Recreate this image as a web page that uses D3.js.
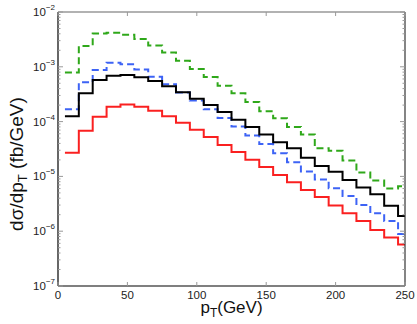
<!DOCTYPE html>
<html>
<head>
<meta charset="utf-8">
<script src="https://cdn.jsdelivr.net/npm/d3@7"></script>
<style>
  body { margin: 0; background: #fff; }
  svg { display: block; font-family: "Liberation Sans", Arial, sans-serif; }
</style>
</head>
<body>
<div id="chart"></div>
<script>
// bin centres (GeV), 10 GeV wide bins
var ptBins = [10, 20, 30, 40, 50, 60, 70, 80, 90, 100, 110, 120, 130, 140, 150, 160, 170, 180, 190, 200, 210, 220, 230, 240, 250]

// dsigma/dpT (fb/GeV)
var greenDashed = [7.9e-4, 2.4e-3, 4.05e-3, 4.2e-3, 3.85e-3, 3.2e-3, 2.45e-3, 1.82e-3, 1.29e-3, 9.1e-4, 6.5e-4, 4.5e-4, 3.3e-4, 2.27e-4, 1.55e-4, 1.15e-4, 8.0e-5, 5.8e-5, 3.25e-5, 2.95e-5, 1.95e-5, 1.18e-5, 8.4e-6, 6.0e-6, 6.6e-6]
var blueDashed = [1.68e-4, 5.2e-4, 8.7e-4, 1.18e-3, 1.11e-3, 8.9e-4, 6.6e-4, 4.8e-4, 3.4e-4, 2.42e-4, 1.68e-4, 1.16e-4, 8.1e-5, 5.6e-5, 3.9e-5, 2.65e-5, 1.82e-5, 1.23e-5, 8.8e-6, 6.05e-6, 4.4e-6, 3.0e-6, 2.12e-6, 1.54e-6, 8.9e-7]
var blackSolid = [1.25e-4, 3.3e-4, 5.75e-4, 6.85e-4, 7.05e-4, 6.45e-4, 5.5e-4, 4.4e-4, 3.45e-4, 2.6e-4, 2.0e-4, 1.5e-4, 1.08e-4, 8.0e-5, 5.8e-5, 4.2e-5, 3.25e-5, 2.2e-5, 1.55e-5, 1.22e-5, 8.6e-6, 6.3e-6, 4.7e-6, 2.92e-6, 1.9e-6]
var redSolid = [2.7e-5, 6.8e-5, 1.22e-4, 1.86e-4, 2.05e-4, 1.86e-4, 1.57e-4, 1.25e-4, 9.5e-5, 7.1e-5, 5.25e-5, 3.75e-5, 2.78e-5, 2.02e-5, 1.48e-5, 1.06e-5, 7.8e-6, 5.65e-6, 4.2e-6, 2.95e-6, 2.12e-6, 1.54e-6, 1.05e-6, 7.7e-7, 5.7e-7]

var xTicks = [0, 50, 100, 150, 200, 250]
var yExponents = [-7, -6, -5, -4, -3, -2]

var dims = {
    width: 417,
    height: 324,
    margin: {top: 12, right: 12, bottom: 38, left: 58}
}
var binWidth = 10

var svg = d3.select("#chart")
    .append("svg")
    .attr("width", dims.width)
    .attr("height", dims.height)

var x = d3.scaleLinear().domain([0, 250]).range([dims.margin.left, dims.width - dims.margin.right])
var y = d3.scaleLog().domain([1e-7, 1e-2]).range([dims.height - dims.margin.bottom, dims.margin.top])

var x0 = x.range()[0], x1 = x.range()[1]
var yTop = y.range()[1], yBot = y.range()[0]

svg.append("clipPath").attr("id", "plotClip")
    .append("rect")
    .attr("x", x0).attr("y", yTop)
    .attr("width", x1 - x0).attr("height", yBot - yTop)

//step histogram: each bin drawn from low edge to high edge
function stepPoints(values) {
    var pts = ptBins.map((c, i) => [c - binWidth / 2, values[i]])
    pts.push([ptBins[ptBins.length - 1] + binWidth / 2, values[values.length - 1]])
    return pts
}

var line = d3.line()
    .x(d => x(d[0]))
    .y(d => y(d[1]))
    .curve(d3.curveStepAfter)

var series = [
    {values: greenDashed, color: "#2fa81a", dash: "7,4"},
    {values: blueDashed, color: "#3d63f5", dash: "7,4"},
    {values: blackSolid, color: "#000000", dash: null},
    {values: redSolid, color: "#fa2020", dash: null}
]

var plot = svg.append("g").attr("clip-path", "url(#plotClip)")
series.forEach(s => {
    plot.append("path")
        .attr("d", line(stepPoints(s.values)))
        .attr("fill", "none")
        .attr("stroke", s.color)
        .attr("stroke-width", 2)
        .attr("stroke-dasharray", s.dash)
})

//frame
svg.append("line").attr("x1", x0).attr("x2", x1).attr("y1", yTop).attr("y2", yTop).attr("stroke", "#999").attr("stroke-width", 1.5)
svg.append("line").attr("x1", x1).attr("x2", x1).attr("y1", yTop).attr("y2", yBot).attr("stroke", "#333").attr("stroke-width", 1.2)
svg.append("line").attr("x1", x0).attr("x2", x1).attr("y1", yBot).attr("y2", yBot).attr("stroke", "#000").attr("stroke-width", 1.2)
svg.append("line").attr("x1", x0).attr("x2", x0).attr("y1", yTop).attr("y2", yBot).attr("stroke", "#000").attr("stroke-width", 1.2)

//x ticks (inward, bottom and top)
var ticks = svg.append("g").attr("stroke", "#999").attr("stroke-width", 1)
xTicks.forEach(t => {
    ticks.append("line").attr("x1", x(t)).attr("x2", x(t)).attr("y1", yBot).attr("y2", yBot - 4)
    ticks.append("line").attr("x1", x(t)).attr("x2", x(t)).attr("y1", yTop).attr("y2", yTop + 4)
})

//y ticks, major + minor, both sides
yExponents.forEach(e => {
    var base = Math.pow(10, e)
    ticks.append("line").attr("x1", x0).attr("x2", x0 + 5).attr("y1", y(base)).attr("y2", y(base))
    ticks.append("line").attr("x1", x1).attr("x2", x1 - 5).attr("y1", y(base)).attr("y2", y(base))
    if (e < -2) {
        for (var m = 2; m <= 9; m++) {
            var v = m * base
            ticks.append("line").attr("x1", x0).attr("x2", x0 + 2.5).attr("y1", y(v)).attr("y2", y(v))
            ticks.append("line").attr("x1", x1).attr("x2", x1 - 2.5).attr("y1", y(v)).attr("y2", y(v))
        }
    }
})

//tick labels
svg.append("g")
    .selectAll("text")
    .data(xTicks)
    .enter()
    .append("text")
    .attr("x", d => x(d))
    .attr("y", yBot + 13)
    .attr("text-anchor", "middle")
    .attr("font-size", "11.5px")
    .attr("fill", "#222")
    .text(d => d)

var yLab = svg.append("g")
    .selectAll("text")
    .data(yExponents)
    .enter()
    .append("text")
    .attr("x", x0 - 3)
    .attr("y", d => y(Math.pow(10, d)) + 4)
    .attr("text-anchor", "end")
    .attr("font-size", "11.5px")
    .attr("fill", "#222")
yLab.append("tspan").text("10")
yLab.append("tspan").attr("dy", -6).attr("font-size", "8px").text(d => "\u2212" + (-d))

//axis titles
var xt = svg.append("text")
    .attr("x", (x0 + x1) / 2)
    .attr("y", 313)
    .attr("text-anchor", "middle")
    .attr("font-size", "17px")
    .attr("fill", "#111")
xt.append("tspan").text("p")
xt.append("tspan").attr("dy", 4).attr("font-size", "12px").text("T")
xt.append("tspan").attr("dy", -4).text("(GeV)")

var yt = svg.append("text")
    .attr("transform", "translate(23,164) rotate(-90)")
    .attr("text-anchor", "middle")
    .attr("font-size", "19px")
    .attr("fill", "#111")
yt.append("tspan").text("d\u03c3/dp")
yt.append("tspan").attr("dy", 4).attr("font-size", "13px").text("T")
yt.append("tspan").attr("dy", -4).text(" (fb/GeV)")
</script>
</body>
</html>
